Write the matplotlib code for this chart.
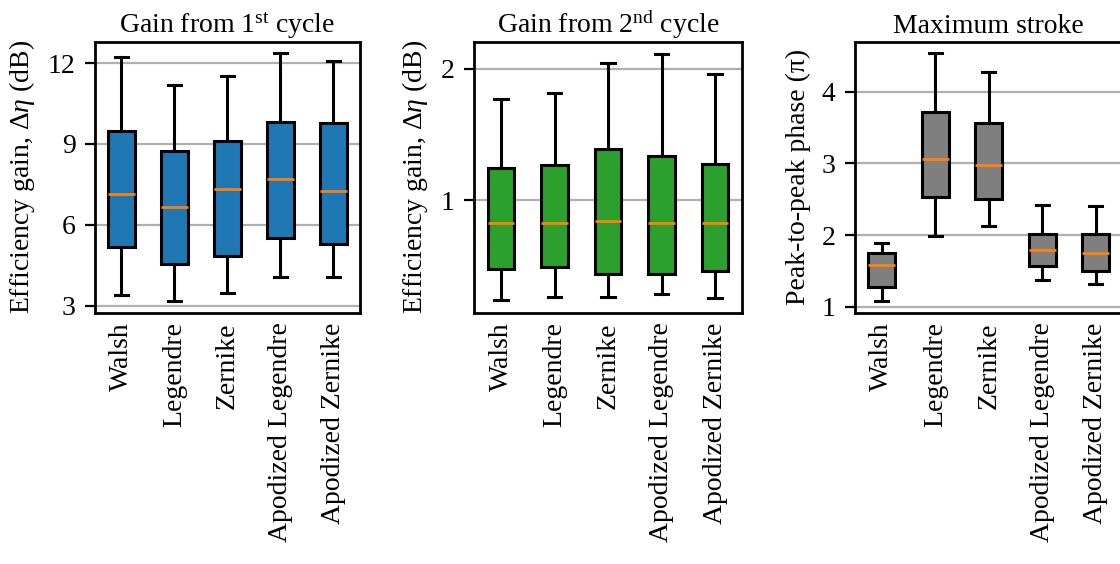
import matplotlib
matplotlib.use("Agg")
import matplotlib.pyplot as plt

plt.rcParams["font.family"] = ["Liberation Serif", "DejaVu Serif"]
plt.rcParams["mathtext.fontset"] = "custom"
plt.rcParams["mathtext.rm"] = "Liberation Serif"
plt.rcParams["mathtext.it"] = "Liberation Serif:italic"
plt.rcParams["font.size"] = 10

labels = ["Walsh", "Legendre", "Zernike", "Apodized Legendre", "Apodized Zernike"]

# first cycle gain (dB)
c1_whislo = [3.38, 3.16, 3.46, 4.05, 4.04]
c1_q1 = [5.16, 4.53, 4.82, 5.52, 5.29]
c1_med = [7.13, 6.66, 7.34, 7.71, 7.25]
c1_q3 = [9.49, 8.74, 9.11, 9.81, 9.78]
c1_whishi = [12.23, 11.17, 11.52, 12.39, 12.07]

# second cycle gain (dB)
c2_whislo = [0.245, 0.267, 0.267, 0.285, 0.262]
c2_q1 = [0.482, 0.492, 0.444, 0.437, 0.467]
c2_med = [0.826, 0.83, 0.84, 0.828, 0.83]
c2_q3 = [1.245, 1.27, 1.391, 1.34, 1.273]
c2_whishi = [1.773, 1.813, 2.045, 2.111, 1.962]

# peak-to-peak phase (pi)
st_whislo = [1.084, 1.99, 2.12, 1.38, 1.32]
st_q1 = [1.275, 2.53, 2.51, 1.57, 1.50]
st_med = [1.576, 3.056, 2.98, 1.79, 1.75]
st_q3 = [1.75, 3.72, 3.57, 2.02, 2.01]
st_whishi = [1.89, 4.54, 4.28, 2.42, 2.40]


def make_stats(lo, q1, med, q3, hi):
    return [dict(label=labels[i], whislo=lo[i], q1=q1[i], med=med[i],
                 q3=q3[i], whishi=hi[i], fliers=[]) for i in range(len(labels))]


fig = plt.figure(figsize=(5.6, 2.82), dpi=200)
ax1 = fig.add_axes([0.0848, 0.4459, 0.2366, 0.4805])
ax2 = fig.add_axes([0.4235, 0.4459, 0.2388, 0.4805])
ax3 = fig.add_axes([0.7634, 0.4459, 0.2388, 0.4805])

panels = [
    (ax1, make_stats(c1_whislo, c1_q1, c1_med, c1_q3, c1_whishi), "tab:blue",
     "Gain from 1$^{\\mathrm{st}}$ cycle", "Efficiency gain, $\\Delta\\eta$ (dB)",
     [3, 6, 9, 12], (2.74, 12.8)),
    (ax2, make_stats(c2_whislo, c2_q1, c2_med, c2_q3, c2_whishi), "tab:green",
     "Gain from 2$^{\\mathrm{nd}}$ cycle", "Efficiency gain, $\\Delta\\eta$ (dB)",
     [1, 2], (0.148, 2.207)),
    (ax3, make_stats(st_whislo, st_q1, st_med, st_q3, st_whishi), "tab:gray",
     "Maximum stroke", "Peak-to-peak phase (π)",
     [1, 2, 3, 4], (0.92, 4.70)),
]

for ax, stats, color, title, ylabel, ticks, ylim in panels:
    ax.bxp(stats, patch_artist=True, showfliers=False,
           boxprops=dict(facecolor=color, edgecolor="black", linewidth=1.1),
           whiskerprops=dict(linewidth=1.1),
           capprops=dict(linewidth=1.1),
           medianprops=dict(color="tab:orange", linewidth=1.0))
    ax.set_title(title, pad=3, fontsize=10)
    ax.set_ylabel(ylabel)
    ax.set_yticks(ticks)
    ax.set_ylim(*ylim)
    ax.set_xlim(0.5, 5.5)
    ax.yaxis.grid(True, color="#b0b0b0", linewidth=0.8)
    ax.set_axisbelow(True)
    ax.tick_params(axis="x", length=0, rotation=90)
    for s in ax.spines.values():
        s.set_linewidth(1.0)

fig.savefig("out.png", dpi=200)
